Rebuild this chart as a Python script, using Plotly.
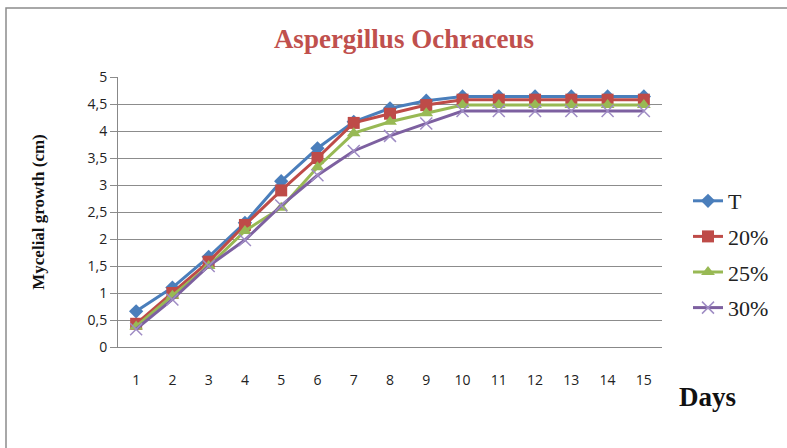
import plotly.graph_objects as go

days = list(range(1, 16))
series_names = ["T", "20%", "25%", "30%"]
t_vals = [0.66, 1.1, 1.67, 2.3, 3.07, 3.68, 4.17, 4.42, 4.56, 4.64, 4.64, 4.64, 4.64, 4.64, 4.64]
p20_vals = [0.43, 1.0, 1.58, 2.26, 2.9, 3.5, 4.15, 4.32, 4.48, 4.58, 4.58, 4.58, 4.58, 4.58, 4.58]
p25_vals = [0.38, 0.95, 1.5, 2.15, 2.58, 3.33, 3.96, 4.17, 4.33, 4.48, 4.48, 4.48, 4.48, 4.48, 4.48]
p30_vals = [0.33, 0.88, 1.5, 1.98, 2.62, 3.18, 3.63, 3.91, 4.14, 4.37, 4.37, 4.37, 4.37, 4.37, 4.37]
y_ticks = [0, 0.5, 1, 1.5, 2, 2.5, 3, 3.5, 4, 4.5, 5]
y_ticktext = ["0", "0,5", "1", "1,5", "2", "2,5", "3", "3,5", "4", "4,5", "5"]

colors = ["#4A7EBB", "#BE4B48", "#98B954", "#7D60A0"]
symbols = ["diamond", "square", "triangle-up", "x-thin"]
sizes = [11, 12, 12, 12]
all_vals = [t_vals, p20_vals, p25_vals, p30_vals]

fig = go.Figure()
for i, (name, vals) in enumerate(zip(series_names, all_vals)):
    marker = dict(symbol=symbols[i], size=sizes[i], color=colors[i])
    if symbols[i] == "x-thin":
        marker["line"] = dict(width=1.5, color="#9F8CC4")
    fig.add_trace(go.Scatter(
        x=[str(d) for d in days], y=vals, name=name, mode="lines+markers",
        line=dict(color=colors[i], width=3), marker=marker,
        legendgroup=name,
    ))

fig.update_layout(
    width=787, height=448,
    margin=dict(l=118, r=125, t=77, b=101),
    paper_bgcolor="white", plot_bgcolor="white",
    title=dict(text="<b>Aspergillus Ochraceus</b>", x=404 / 787, xanchor="center",
               y=1 - 39 / 448, yanchor="middle",
               font=dict(family="Liberation Serif", size=27, color="#C0504D")),
    showlegend=True,
    legend=dict(xref="container", yref="container", x=688 / 787, xanchor="left",
                y=1 - 180 / 448, yanchor="top",
                font=dict(family="Liberation Serif", size=22, color="#222"),
                tracegroupgap=4, bgcolor="rgba(0,0,0,0)"),
    xaxis=dict(type="category", range=[-0.5, 14.5], showgrid=False, showline=True,
               linecolor="#888", linewidth=1,
               ticks="", ticklabelstandoff=20,
               tickfont=dict(family="Open Sans", size=14, color="#222")),
    yaxis=dict(range=[0, 5], tickvals=y_ticks, ticktext=y_ticktext, showgrid=True,
               gridcolor="#8C8C8C", gridwidth=1, showline=True, linecolor="#888",
               ticks="outside", ticklen=7, tickcolor="#8C8C8C",
               tickfont=dict(family="Open Sans", size=14, color="#222"), zeroline=False,
               title=dict(text="<b>Mycelial growth (cm)</b>", standoff=38,
                          font=dict(family="Liberation Serif", size=17, color="#111"))),
)

fig.add_annotation(text="<b>Days</b>", xref="paper", yref="paper",
                   x=(707 - 118) / 544, y=(347 - 397) / 270, xanchor="center", yanchor="middle",
                   showarrow=False, font=dict(family="Liberation Serif", size=27, color="#111"))

fig.add_shape(type="rect", xref="paper", yref="paper",
              x0=(6 - 118) / 544, y0=(347 - 460) / 270, x1=(800 - 118) / 544, y1=(347 - 8) / 270,
              line=dict(color="#8C8C8C", width=1.5), fillcolor="rgba(0,0,0,0)", layer="below")

fig.write_html("out.html")
